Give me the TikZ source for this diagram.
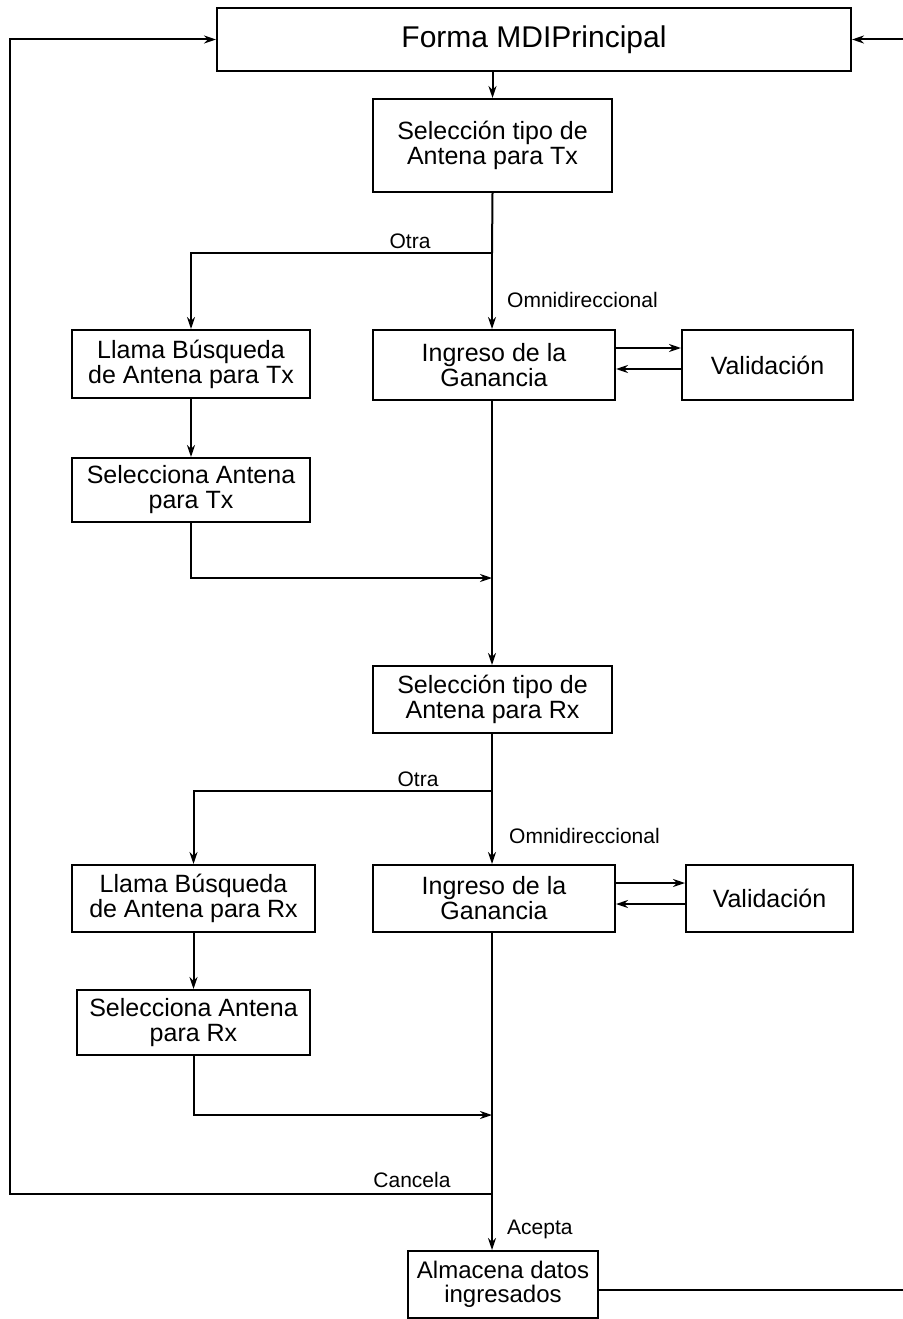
\documentclass[tikz,border=0pt]{standalone}
\usepackage{fontspec}
\setmainfont{Liberation Sans}
\usetikzlibrary{arrows.meta}
\begin{document}
\begin{tikzpicture}[x=1pt,y=-1pt,
  box/.style={draw,line width=2pt,align=center,inner sep=0pt,
    font=\fontsize{25}{25}\selectfont},
  conn/.style={line width=2pt},
  arr/.style={conn,-{Stealth[length=12pt,width=8pt]}},
  lbl/.style={font=\fontsize{21}{23}\selectfont,inner sep=0pt}]
\useasboundingbox (0,0) rectangle (902,1319);

% main form and the transmitter section
\node[box,minimum width=634pt,minimum height=63pt,font=\fontsize{30}{30}\selectfont] (forma) at (534,39.5) {Forma MDIPrincipal};
\node[box,minimum width=239pt,minimum height=93pt] (seltx) at (492.5,145.5) {Selección tipo de\\Antena para Tx};
\node[box,minimum width=238pt,minimum height=68pt] (llamatx) at (191,364) {Llama Búsqueda\\de Antena para Tx};
\node[box,minimum width=242pt,minimum height=70pt] (ingtx) at (494,365) {Ingreso de la\\Ganancia};
\node[box,minimum width=171pt,minimum height=70pt] (valtx) at (767.5,365) {Validación};
\node[box,minimum width=238pt,minimum height=64pt] (seltxa) at (191,490) {Selecciona Antena\\para Tx};

% receiver section
\node[box,minimum width=239pt,minimum height=67pt] (selrx) at (492.5,699.5) {Selección tipo de\\Antena para Rx};
\node[box,minimum width=243pt,minimum height=67pt] (llamarx) at (193.5,898.5) {Llama Búsqueda\\de Antena para Rx};
\node[box,minimum width=242pt,minimum height=67pt] (ingrx) at (494,898.5) {Ingreso de la\\Ganancia};
\node[box,minimum width=167pt,minimum height=67pt] (valrx) at (769.5,898.5) {Validación};
\node[box,minimum width=233pt,minimum height=65pt] (selrxa) at (193.5,1022.5) {Selecciona Antena\\para Rx};
\node[box,minimum width=190pt,minimum height=67pt,font=\fontsize{24}{24}\selectfont] (alm) at (503,1284.5) {Almacena datos\\ingresados};

% junction points on the main flow
\coordinate (jtx) at (492,253);
\coordinate (mtx) at (492,578);
\coordinate (jrx) at (492,791);
\coordinate (mrx) at (492,1115);
\coordinate (jc) at (492,1194);
\coordinate (lc) at (10,1194);
\coordinate (rc) at (905,1290);

% transmitter flow
\draw[arr] (forma.south -| seltx.south) -- (seltx.north);
\draw[conn] (seltx.south) -- (jtx);
\draw[arr] (jtx) -| (llamatx.north);
\draw[arr] (jtx) -- (ingtx.north -| jtx);
\draw[arr] ([yshift=17pt]ingtx.east) -- ([yshift=17pt]ingtx.east -| valtx.west);
\draw[arr] ([yshift=-4pt]ingtx.east -| valtx.west) -- ([yshift=-4pt]ingtx.east);
\draw[arr] (llamatx.south) -- (seltxa.north);
\draw[arr] (seltxa.south) |- (mtx);
\draw[arr] (ingtx.south -| jtx) -- (selrx.north -| jtx);

% receiver flow
\draw[conn] (selrx.south -| jrx) -- (jrx);
\draw[arr] (jrx) -| (llamarx.north);
\draw[arr] (jrx) -- (ingrx.north -| jrx);
\draw[arr] ([yshift=15.5pt]ingrx.east) -- ([yshift=15.5pt]ingrx.east -| valrx.west);
\draw[arr] ([yshift=-5.5pt]ingrx.east -| valrx.west) -- ([yshift=-5.5pt]ingrx.east);
\draw[arr] (llamarx.south) -- (selrxa.north);
\draw[arr] (selrxa.south) |- (mrx);
\draw[arr] (ingrx.south -| jrx) -- (alm.north -| jrx);

% return paths to the main form (the right one runs along the page edge)
\draw[arr] (jc) -- (lc) |- (forma.west);
\draw[arr] ([yshift=-5.5pt]alm.east) -- (rc) |- (forma.east);

% branch labels
\node[lbl] (otratx) at (410,241) {Otra};
\node[lbl,anchor=west] (omnitx) at (507,300) {Omnidireccional};
\node[lbl] (otrarx) at (418,779) {Otra};
\node[lbl,anchor=west] (omnirx) at (509,836) {Omnidireccional};
\node[lbl] (cancela) at (412,1180) {Cancela};
\node[lbl,anchor=west] (acepta) at (507,1229) {Acepta};
\end{tikzpicture}
\end{document}
